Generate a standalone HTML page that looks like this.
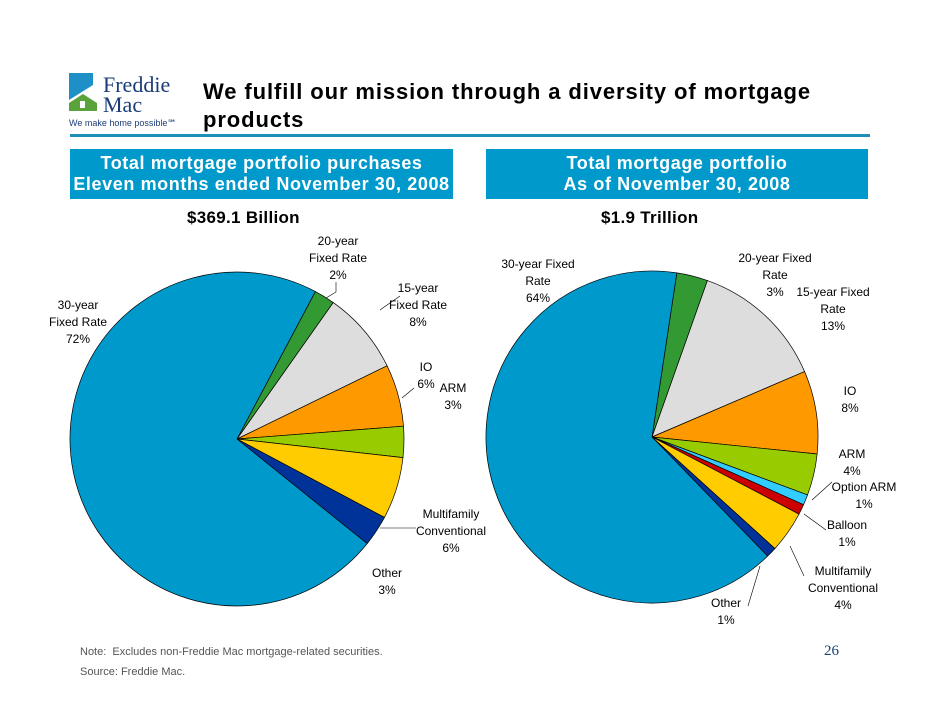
<!DOCTYPE html>
<html><head><meta charset="utf-8"><style>
body{margin:0;background:#fff;font-family:"Liberation Sans",sans-serif;}
#wrap{position:relative;width:942px;height:728px;overflow:hidden;}
.abs{position:absolute;}
.hdr{position:absolute;background:#0099cc;color:#fff;font-weight:bold;font-size:18px;letter-spacing:0.6px;text-align:center;line-height:21px;padding-top:4px;}
</style></head><body>
<div id="wrap">
<svg class="abs" style="left:69px;top:73px" width="120" height="60">
<polygon points="0,0 24,0 24,12 0,27" fill="#1f8fc8"/>
<polygon points="0,30 14,21 28,30 28,38 0,38" fill="#5aa33a"/>
<rect x="11" y="28" width="5" height="7" fill="#fff"/>
<text x="34" y="19" font-family="Liberation Serif,serif" font-size="22" fill="#1a3c7a">Freddie</text>
<text x="34" y="39" font-family="Liberation Serif,serif" font-size="22" fill="#1a3c7a">Mac</text>
<text x="0" y="53" font-size="9" fill="#1a3c7a">We make home possible℠</text>
</svg>
<div class="abs" style="left:203px;top:78px;font-size:22px;letter-spacing:0.9px;font-weight:bold;line-height:28px">We fulfill our mission through a diversity of mortgage<br>products</div>
<div class="abs" style="left:70px;top:134px;width:800px;height:3px;background:#1e90b8"></div>
<div class="hdr" style="left:70px;top:149px;width:383px;height:46px">Total mortgage portfolio purchases<br>Eleven months ended November 30, 2008</div>
<div class="hdr" style="left:486px;top:149px;width:382px;height:46px">Total mortgage portfolio<br>As of November 30, 2008</div>
<div class="abs" style="left:187px;top:208px;font-size:17px;font-weight:bold;letter-spacing:0.3px">$369.1 Billion</div>
<div class="abs" style="left:601px;top:208px;font-size:17px;font-weight:bold;letter-spacing:0.3px">$1.9 Trillion</div>
<svg id="pies" class="abs" style="left:0;top:0" width="942" height="728"></svg>
<div class="abs" style="left:80px;top:646px;font-size:11px;color:#555">Note:&nbsp; Excludes non-Freddie Mac mortgage-related securities.</div>
<div class="abs" style="left:80px;top:666px;font-size:11px;color:#555">Source: Freddie Mac.</div>
<div class="abs" style="left:824px;top:643px;font-size:15px;color:#1a3c7a;font-family:'Liberation Serif',serif">26</div>
</div>
<script>
const leftCats=["20-year Fixed Rate","15-year Fixed Rate","IO","ARM","Multifamily Conventional","Other","30-year Fixed Rate"];
const leftVals=[2,8,6,3,6,3,72];
const leftColors=["#339933","#dddddd","#ff9900","#99cc00","#ffcc00","#003399","#0099cc"];
const rightCats=["20-year Fixed Rate","15-year Fixed Rate","IO","ARM","Option ARM","Balloon","Multifamily Conventional","Other","30-year Fixed Rate"];
const rightVals=[3,13,8,4,1,1,4,1,64];
const rightColors=["#339933","#dddddd","#ff9900","#99cc00","#33ccff","#cc0000","#ffcc00","#003399","#0099cc"];
const NS="http://www.w3.org/2000/svg";
const svg=document.getElementById('pies');
function pie(cx,cy,r,start,vals,cats,colors,prefix){
  const tot=vals.reduce((a,b)=>a+b,0);
  let a=start*Math.PI/180;
  vals.forEach((v,i)=>{
    const da=v/tot*2*Math.PI;
    const x1=cx+r*Math.sin(a),y1=cy-r*Math.cos(a);
    const x2=cx+r*Math.sin(a+da),y2=cy-r*Math.cos(a+da);
    const p=document.createElementNS(NS,'path');
    p.setAttribute('d',`M${cx},${cy}L${x1},${y1}A${r},${r} 0 ${da>Math.PI?1:0} 1 ${x2},${y2}Z`);
    p.setAttribute('fill',colors[i]);p.setAttribute('stroke','#000');p.setAttribute('stroke-width','0.7');
    
    
    svg.appendChild(p);
    a+=da;
  });
}
pie(237,439,167,28,leftVals,leftCats,leftColors,'left');
pie(652,437,166,8.6,rightVals,rightCats,rightColors,'right');
function label(x,y,lines,name){
  const t=document.createElementNS(NS,'text');
  t.setAttribute('font-size','12');t.setAttribute('text-anchor','middle');
  lines.forEach((l,i)=>{const s=document.createElementNS(NS,'tspan');s.setAttribute('x',x);s.setAttribute('y',y+i*17);s.textContent=l;t.appendChild(s);});
  
  
  svg.appendChild(t);
}
function line(pts){const p=document.createElementNS(NS,'polyline');p.setAttribute('points',pts);p.setAttribute('fill','none');p.setAttribute('stroke','#000');p.setAttribute('stroke-width','0.6');svg.appendChild(p);}
label(338,245,["20-year","Fixed Rate",leftVals[0]+"%"],'left-label-20yr');
label(418,292,["15-year","Fixed Rate",leftVals[1]+"%"],'left-label-15yr');
label(426,371,["IO",leftVals[2]+"%"],'left-label-io');
label(453,392,["ARM",leftVals[3]+"%"],'left-label-arm');
label(451,518,["Multifamily","Conventional",leftVals[4]+"%"],'left-label-multifamily');
label(387,577,["Other",leftVals[5]+"%"],'left-label-other');
label(78,309,["30-year","Fixed Rate",leftVals[6]+"%"],'left-label-30yr');
line("336,282 336,292 326,298");line("400,296 380,310");line("414,388 402,398");line("416,528 380,528");
label(538,268,["30-year Fixed","Rate",rightVals[8]+"%"],'right-label-30yr');
label(775,262,["20-year Fixed","Rate",rightVals[0]+"%"],'right-label-20yr');
label(833,296,["15-year Fixed","Rate",rightVals[1]+"%"],'right-label-15yr');
label(850,395,["IO",rightVals[2]+"%"],'right-label-io');
label(852,458,["ARM",rightVals[3]+"%"],'right-label-arm');
label(864,491,["Option ARM",rightVals[4]+"%"],'right-label-option-arm');
label(847,529,["Balloon",rightVals[5]+"%"],'right-label-balloon');
label(843,575,["Multifamily","Conventional",rightVals[6]+"%"],'right-label-multifamily');
label(726,607,["Other",rightVals[7]+"%"],'right-label-other');
line("832,482 812,500");line("826,530 804,514");line("804,576 790,546");line("748,606 760,566");
</script>
</body></html>
